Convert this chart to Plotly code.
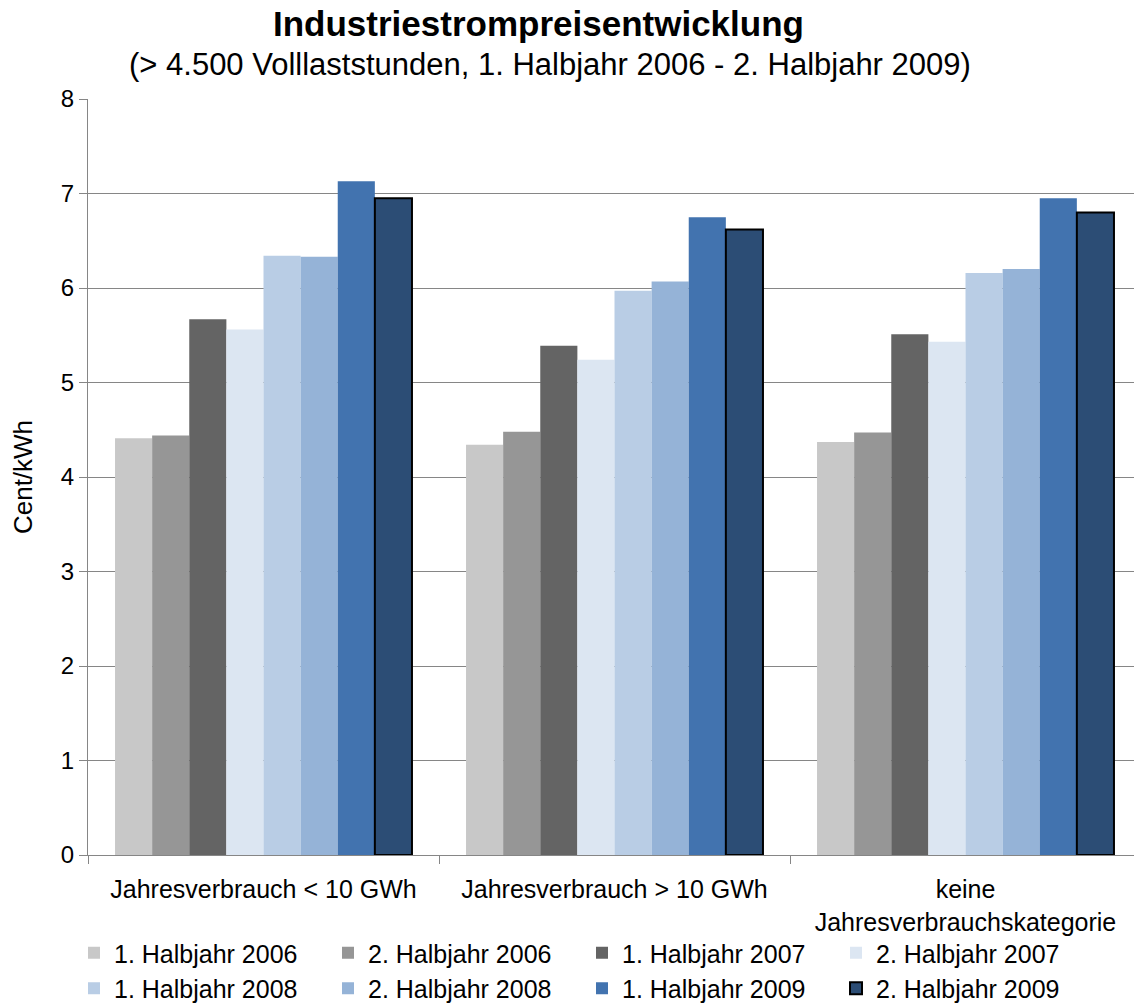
import plotly.graph_objects as go

categories = ["Jahresverbrauch < 10 GWh", "Jahresverbrauch > 10 GWh", "keine<br>Jahresverbrauchskategorie"]
series_names = ["1. Halbjahr 2006", "2. Halbjahr 2006", "1. Halbjahr 2007", "2. Halbjahr 2007",
                "1. Halbjahr 2008", "2. Halbjahr 2008", "1. Halbjahr 2009", "2. Halbjahr 2009"]
h1_2006 = [4.41, 4.34, 4.37]
h2_2006 = [4.44, 4.48, 4.47]
h1_2007 = [5.67, 5.39, 5.51]
h2_2007 = [5.56, 5.24, 5.43]
h1_2008 = [6.34, 5.97, 6.16]
h2_2008 = [6.33, 6.07, 6.20]
h1_2009 = [7.13, 6.75, 6.95]
h2_2009 = [6.95, 6.62, 6.80]
series_values = [h1_2006, h2_2006, h1_2007, h2_2007, h1_2008, h2_2008, h1_2009, h2_2009]
colors = ["#C8C8C8", "#969696", "#646464", "#DCE6F2", "#B9CDE5", "#95B3D7", "#4273AF", "#2C4D75"]
y_ticks = [0, 1, 2, 3, 4, 5, 6, 7, 8]

FONT = "Liberation Sans, Arial, sans-serif"
W, H = 1134, 1004
ML, MR, MT, MB = 88, 0, 99, 149
PW, PH = W - ML - MR, H - MT - MB

fig = go.Figure()
for i, (name, vals) in enumerate(zip(series_names, series_values)):
    last = i == len(series_names) - 1
    fig.add_trace(go.Bar(
        x=categories, y=vals, name=name,
        marker=dict(color=colors[i],
                    line=dict(color="#000000" if last else colors[i], width=2 if last else 0)),
    ))

fig.update_layout(
    width=W, height=H,
    margin=dict(l=ML, r=MR, t=MT, b=MB, autoexpand=False),
    barmode="group", bargap=0.154, bargroupgap=0,
    plot_bgcolor="white", paper_bgcolor="white",
    font=dict(family=FONT, color="#000000", size=25),
    showlegend=True,
    legend=dict(orientation="h", x=(74 - ML) / PW, xanchor="left",
                y=-(930 - MT - PH) / PH, yanchor="top",
                entrywidth=209, entrywidthmode="pixels",
                bgcolor="rgba(0,0,0,0)",
                font=dict(family=FONT, size=25), itemwidth=30,
                tracegroupgap=0, traceorder="normal"),
    annotations=[
        dict(text="<b>Industriestrompreisentwicklung</b>", x=(538 - ML) / PW, xref="paper",
             xanchor="center", y=1 + (MT - 24) / PH, yref="paper", yanchor="middle",
             showarrow=False, font=dict(family=FONT, size=35)),
        dict(text="(> 4.500 Volllaststunden, 1. Halbjahr 2006 - 2. Halbjahr 2009)",
             x=(550 - ML) / PW, xref="paper", xanchor="center",
             y=1 + (MT - 64) / PH, yref="paper", yanchor="middle", showarrow=False,
             font=dict(family=FONT, size=31)),
    ],
)

fig.update_yaxes(
    range=[0, 8], tickvals=y_ticks, showgrid=True, gridcolor="#868686", gridwidth=1,
    showline=True, linecolor="#868686", linewidth=1, ticks="outside", ticklen=8,
    tickcolor="#868686", tickfont=dict(size=24), zeroline=False, automargin=False,
    title=dict(text="Cent/kWh", font=dict(size=26), standoff=20),
)
fig.update_xaxes(
    range=[-0.5, 2.5 - 7 / 351], showline=True, linecolor="#868686", linewidth=1,
    ticks="outside", ticklen=8, tickcolor="#868686", tickson="boundaries",
    tickfont=dict(size=25), showgrid=False, automargin=False, ticklabelstandoff=12,
)

fig.write_html("out.html")
